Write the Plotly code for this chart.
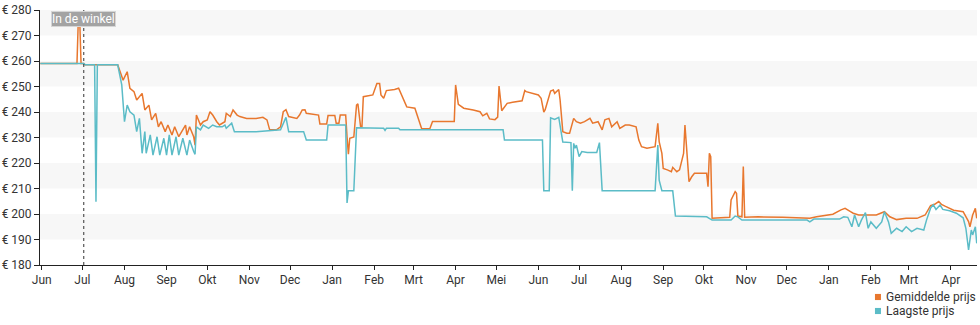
import plotly.graph_objects as go

# Price history: average price and lowest price (EUR)
avg_dates = [
    "2023-05-31", "2023-06-27", "2023-06-28", "2023-06-29", "2023-06-30", "2023-07-02", "2023-07-03",
    "2023-07-27", "2023-07-31", "2023-08-03", "2023-08-05", "2023-08-08", "2023-08-10", "2023-08-14",
    "2023-08-16", "2023-08-19", "2023-08-21", "2023-08-24", "2023-08-26", "2023-08-28", "2023-08-31",
    "2023-09-02", "2023-09-05", "2023-09-07", "2023-09-10", "2023-09-12", "2023-09-15", "2023-09-16",
    "2023-09-18", "2023-09-21", "2023-09-22", "2023-09-23", "2023-09-26", "2023-09-28", "2023-10-01",
    "2023-10-03", "2023-10-05", "2023-10-08", "2023-10-10", "2023-10-14", "2023-10-15", "2023-10-18",
    "2023-10-20", "2023-10-23", "2023-10-25", "2023-10-30", "2023-11-06", "2023-11-11", "2023-11-14",
    "2023-11-16", "2023-11-21", "2023-11-24", "2023-11-26", "2023-11-28", "2023-11-30", "2023-12-06",
    "2023-12-08", "2023-12-10", "2023-12-12", "2023-12-13", "2023-12-22", "2023-12-23", "2023-12-28",
    "2023-12-29", "2024-01-03", "2024-01-04", "2024-01-06", "2024-01-07", "2024-01-11", "2024-01-12",
    "2024-01-13", "2024-01-14", "2024-01-17", "2024-01-19", "2024-01-20", "2024-01-22", "2024-01-23",
    "2024-01-24", "2024-01-31", "2024-02-03", "2024-02-05", "2024-02-06", "2024-02-08", "2024-02-10",
    "2024-02-16", "2024-02-19", "2024-02-21", "2024-02-25", "2024-03-02", "2024-03-06", "2024-03-07",
    "2024-03-13", "2024-03-15", "2024-03-31", "2024-04-01", "2024-04-03", "2024-04-07", "2024-04-14",
    "2024-04-19", "2024-04-21", "2024-04-24", "2024-04-26", "2024-04-30", "2024-05-02", "2024-05-03",
    "2024-05-05", "2024-05-09", "2024-05-13", "2024-05-20", "2024-05-22", "2024-05-23", "2024-06-01",
    "2024-06-03", "2024-06-05", "2024-06-06", "2024-06-10", "2024-06-12", "2024-06-13", "2024-06-16",
    "2024-06-17", "2024-06-19", "2024-06-22", "2024-06-24", "2024-06-27", "2024-06-29", "2024-07-02",
    "2024-07-05", "2024-07-09", "2024-07-11", "2024-07-15", "2024-07-18", "2024-07-20", "2024-07-23",
    "2024-07-25", "2024-07-29", "2024-07-31", "2024-08-04", "2024-08-07", "2024-08-12", "2024-08-14",
    "2024-08-16", "2024-08-20", "2024-08-26", "2024-08-28", "2024-08-29", "2024-08-31", "2024-09-01",
    "2024-09-04", "2024-09-07", "2024-09-08", "2024-09-11", "2024-09-13", "2024-09-15", "2024-09-16",
    "2024-09-17", "2024-09-19", "2024-09-20", "2024-09-22", "2024-09-24", "2024-10-03", "2024-10-04",
    "2024-10-05", "2024-10-06", "2024-10-07", "2024-10-20", "2024-10-21", "2024-10-24", "2024-10-25",
    "2024-10-26", "2024-10-29", "2024-10-30", "2024-10-31", "2024-11-10", "2024-11-28", "2024-12-18",
    "2024-12-23", "2024-12-30", "2025-01-04", "2025-01-10", "2025-01-13", "2025-01-17", "2025-01-19",
    "2025-01-23", "2025-01-29", "2025-02-05", "2025-02-11", "2025-02-15", "2025-02-20", "2025-02-27",
    "2025-03-07", "2025-03-13", "2025-03-17", "2025-03-20", "2025-03-23", "2025-03-25", "2025-03-28",
    "2025-04-03", "2025-04-10", "2025-04-14", "2025-04-15", "2025-04-17", "2025-04-19", "2025-04-20",
]
avg_prices = [
    259.0, 259.0, 276.5, 276.5, 259.0, 259.0, 258.5,
    258.5, 252.5, 255.8, 249.3, 248.0, 244.7, 247.3,
    240.8, 242.7, 236.9, 239.5, 234.2, 236.2, 232.3,
    234.9, 231.0, 234.2, 230.3, 232.3, 234.9, 231.0,
    234.2, 230.3, 227.0, 238.8, 234.9, 236.2, 236.9,
    240.1, 238.8, 236.2, 234.9, 236.2, 239.5, 238.2,
    240.8, 238.8, 238.2, 237.5, 237.5, 237.9, 236.9,
    233.0, 233.0, 234.2, 240.1, 240.9, 238.2, 237.5,
    238.8, 240.8, 240.9, 239.5, 238.8, 235.3, 235.3,
    238.6, 238.6, 235.6, 235.6, 238.8, 238.8, 230.3,
    223.5, 229.7, 230.2, 242.7, 243.2, 234.2, 234.2,
    246.0, 246.7, 251.2, 251.2, 246.7, 245.4, 248.4,
    248.8, 249.3, 246.7, 242.0, 241.5, 235.3, 233.4,
    233.4, 236.3, 236.3, 250.6, 243.0, 241.5, 240.8,
    240.1, 238.5, 239.5, 237.3, 237.0, 238.0, 250.2,
    240.5, 243.4, 243.8, 244.4, 248.4, 248.0, 246.7,
    245.4, 240.0, 240.9, 248.2, 248.6, 247.3, 248.8,
    244.7, 232.3, 231.7, 231.7, 237.5, 236.2, 235.6,
    236.2, 237.5, 235.6, 236.2, 233.0, 236.9, 237.5,
    234.2, 236.2, 233.6, 234.9, 234.9, 234.2, 229.0,
    226.4, 225.8, 226.4, 235.6, 228.4, 223.8, 217.9,
    217.3, 216.6, 218.3, 216.6, 217.3, 222.5, 223.8,
    234.9, 217.3, 212.7, 214.6, 216.0, 216.0, 210.7,
    223.8, 222.5, 198.3, 198.7, 205.5, 208.8, 208.1,
    199.2, 198.9, 218.6, 198.7, 198.9, 198.7, 198.3,
    198.9, 199.6, 199.9, 201.6, 202.2, 200.9, 200.3,
    199.6, 199.6, 199.6, 200.9, 198.9, 197.8, 198.3,
    198.3, 199.6, 203.3, 203.8, 204.9, 203.8, 203.0,
    201.5, 200.9, 197.0, 195.0, 199.6, 202.2, 198.3,
]

low_dates = [
    "2023-05-31", "2023-07-02", "2023-07-03", "2023-07-10", "2023-07-11", "2023-07-12", "2023-07-27",
    "2023-07-30", "2023-08-01", "2023-08-03", "2023-08-05", "2023-08-08", "2023-08-10", "2023-08-12",
    "2023-08-14", "2023-08-16", "2023-08-17", "2023-08-20", "2023-08-22", "2023-08-25", "2023-08-27",
    "2023-08-30", "2023-09-01", "2023-09-03", "2023-09-05", "2023-09-08", "2023-09-10", "2023-09-13",
    "2023-09-16", "2023-09-18", "2023-09-21", "2023-09-22", "2023-09-23", "2023-09-26", "2023-09-28",
    "2023-10-02", "2023-10-05", "2023-10-08", "2023-10-12", "2023-10-14", "2023-10-15", "2023-10-19",
    "2023-10-21", "2023-11-06", "2023-11-24", "2023-11-28", "2023-11-30", "2023-12-11", "2023-12-13",
    "2023-12-28", "2023-12-29", "2024-01-11", "2024-01-12", "2024-01-13", "2024-01-17", "2024-01-19",
    "2024-02-08", "2024-02-09", "2024-02-10", "2024-02-19", "2024-02-20", "2024-05-06", "2024-05-07",
    "2024-06-04", "2024-06-05", "2024-06-09", "2024-06-10", "2024-06-13", "2024-06-16", "2024-06-19",
    "2024-06-25", "2024-06-26", "2024-06-27", "2024-06-28", "2024-06-29", "2024-07-01", "2024-07-03",
    "2024-07-07", "2024-07-14", "2024-07-16", "2024-07-18", "2024-08-26", "2024-08-28", "2024-08-29",
    "2024-08-31", "2024-09-08", "2024-09-10", "2024-10-03", "2024-10-07", "2024-10-21", "2024-10-24",
    "2024-10-26", "2024-10-29", "2024-12-16", "2024-12-18", "2024-12-21", "2025-01-09", "2025-01-12",
    "2025-01-15", "2025-01-18", "2025-01-20", "2025-01-23", "2025-01-25", "2025-01-28", "2025-01-30",
    "2025-02-01", "2025-02-05", "2025-02-09", "2025-02-11", "2025-02-14", "2025-02-16", "2025-02-20",
    "2025-02-24", "2025-02-27", "2025-03-03", "2025-03-07", "2025-03-12", "2025-03-14", "2025-03-17",
    "2025-03-19", "2025-03-21", "2025-03-24", "2025-03-26", "2025-03-31", "2025-04-05", "2025-04-10",
    "2025-04-12", "2025-04-14", "2025-04-16", "2025-04-17", "2025-04-19", "2025-04-20",
]
low_prices = [
    259.0, 259.0, 258.5, 258.5, 204.8, 258.5, 258.5,
    250.6, 236.2, 242.7, 240.1, 238.8, 232.3, 237.5,
    223.8, 232.3, 223.8, 231.0, 223.1, 230.3, 223.1,
    229.7, 223.1, 231.0, 223.1, 230.3, 223.1, 229.7,
    223.1, 229.0, 224.5, 223.4, 234.2, 233.0, 234.9,
    233.6, 234.9, 234.2, 234.2, 234.9, 233.6, 235.6,
    232.3, 232.3, 233.0, 237.9, 232.3, 232.3, 229.0,
    229.0, 234.9, 234.9, 204.3, 209.1, 209.1, 233.8,
    233.6, 232.8, 233.6, 233.6, 233.0, 233.0, 229.0,
    229.0, 209.1, 209.1, 237.7, 237.1, 237.9, 228.2,
    228.0, 209.1, 227.7, 225.8, 227.0, 222.5, 224.5,
    224.1, 224.1, 228.0, 209.1, 209.1, 227.0, 213.3,
    209.1, 209.1, 199.2, 198.9, 197.6, 197.6, 199.2,
    198.9, 197.6, 197.6, 196.9, 198.0, 198.0, 198.9,
    198.7, 195.0, 199.6, 195.0, 197.6, 200.5, 194.4,
    196.9, 194.4, 196.9, 200.9, 196.9, 192.4, 194.4,
    193.1, 195.0, 193.1, 194.4, 193.7, 197.6, 202.3,
    203.6, 201.8, 203.5, 201.8, 201.3, 200.3, 198.5,
    194.4, 185.9, 193.7, 191.8, 195.0, 188.5,
]

# Date the product went on sale in stores
store_date = "2023-07-02"
store_label = "In de winkel"

series_names = ["Gemiddelde prijs", "Laagste prijs"]
series_colors = ["#e8772e", "#5bbcc7"]

month_ticks = [
    "2023-06-01", "2023-07-01", "2023-08-01", "2023-09-01", "2023-10-01", "2023-11-01",
    "2023-12-01", "2024-01-01", "2024-02-01", "2024-03-01", "2024-04-01", "2024-05-01",
    "2024-06-01", "2024-07-01", "2024-08-01", "2024-09-01", "2024-10-01", "2024-11-01",
    "2024-12-01", "2025-01-01", "2025-02-01", "2025-03-01", "2025-04-01",
]
month_labels = [
    "Jun", "Jul", "Aug", "Sep", "Okt", "Nov", "Dec", "Jan", "Feb", "Mrt", "Apr", "Mei",
    "Jun", "Jul", "Aug", "Sep", "Okt", "Nov", "Dec", "Jan", "Feb", "Mrt", "Apr",
]
price_ticks = [180, 190, 200, 210, 220, 230, 240, 250, 260, 270, 280]
price_labels = ["€ %d" % p for p in price_ticks]

fig = go.Figure()

for dates, prices, name, color in [
    (avg_dates, avg_prices, series_names[0], series_colors[0]),
    (low_dates, low_prices, series_names[1], series_colors[1]),
]:
    fig.add_trace(go.Scatter(
        x=dates, y=prices, mode="lines", name=name,
        line=dict(color=color, width=1.5, shape="linear"),
        showlegend=False, hoverinfo="x+y",
    ))

# alternating light bands behind the lines
shapes = []
for lo in price_ticks[1::2]:
    shapes.append(dict(
        type="rect", xref="paper", yref="y", x0=0, x1=1, y0=lo, y1=lo + 10,
        fillcolor="#f7f7f7", line=dict(width=0), layer="below",
    ))
shapes.append(dict(
    type="line", xref="x", yref="paper", x0=store_date, x1=store_date, y0=0, y1=1,
    line=dict(color="#333333", width=1, dash="dot"),
))

annotations = [dict(
    x=store_date, xref="x", y=0.965, yref="paper",
    text=store_label, showarrow=False,
    font=dict(family="Roboto, sans-serif", size=12, color="white"),
    bgcolor="#a3a3a3", bordercolor="#d6d6d6", borderwidth=1, borderpad=0,
    xanchor="center", yanchor="middle",
)]

# compact legend below the plot, bottom right: square swatch + series name
legend_x = 0.9007
legend_rows = [-0.1255, -0.1804]
for name, color, row in zip(series_names, series_colors, legend_rows):
    shapes.append(dict(
        type="rect", xref="paper", yref="paper",
        x0=legend_x - 0.0096, x1=legend_x - 0.0032,
        y0=row - 0.012, y1=row + 0.012,
        fillcolor=color, line=dict(width=0),
    ))
    annotations.append(dict(
        x=legend_x, xref="paper", y=row, yref="paper",
        text=name, showarrow=False, xanchor="left", yanchor="middle",
        font=dict(family="Roboto, sans-serif", size=12, color="#333333"),
    ))

fig.update_layout(
    width=980, height=325,
    margin=dict(l=40, r=3, t=10, b=60, autoexpand=False),
    paper_bgcolor="white", plot_bgcolor="white",
    font=dict(family="Roboto, sans-serif", size=12, color="#333333"),
    shapes=shapes,
    annotations=annotations,
    showlegend=False,
    xaxis=dict(
        type="date", range=["2023-05-30 18:00", "2025-04-20 05:00"],
        tickmode="array", tickvals=month_ticks, ticktext=month_labels,
        showgrid=False, zeroline=False,
        showline=True, linecolor="#222222", linewidth=1,
        ticks="outside", ticklen=4, tickcolor="#222222",
        tickfont=dict(size=12, color="#333333"),
    ),
    yaxis=dict(
        range=[180, 280], tickmode="array", tickvals=price_ticks, ticktext=price_labels,
        showgrid=False, zeroline=False,
        showline=True, linecolor="#222222", linewidth=1,
        ticks="outside", ticklen=5, tickcolor="#222222",
        tickfont=dict(size=12, color="#333333"),
    ),
)

fig.write_html("out.html")
